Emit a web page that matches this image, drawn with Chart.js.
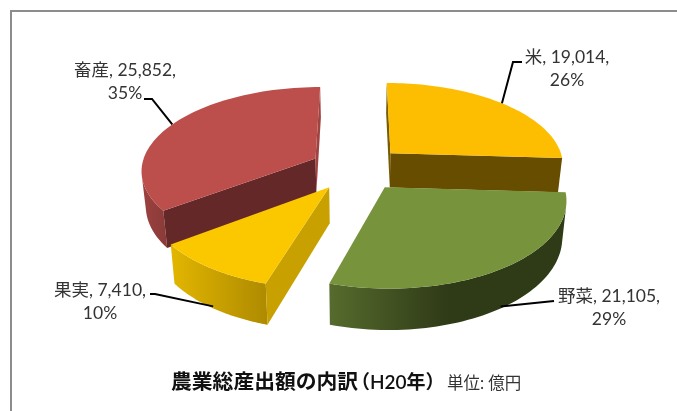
<!DOCTYPE html>
<html lang="ja">
<head>
<meta charset="utf-8">
<style>html,body{margin:0;padding:0;background:#fff}canvas{display:block}</style>
<script src="https://cdn.jsdelivr.net/npm/chart.js@4"></script>
</head>
<body>
<canvas id="c" width="677" height="411"></canvas>
<script>
const categories = ['米', '野菜', '果実', '畜産'];
const values = [19014, 21105, 7410, 25852];
const percentLabels = ['26%', '29%', '10%', '35%'];
const valueLabels = ['19,014', '21,105', '7,410', '25,852'];
const titleMain = '農業総産出額の内訳';
const titleYear = '（H20年）';
const unitText = '単位: 億円';

// look of each slice
const topColors = ['#FDBD00', '#77933C', '#FBC800', '#BC4F4C'];
const startWallColors = ['#7A5C00', '#3A4A1E', '#C8A000', '#652828'];
const endWallColors = ['#664D00', '#3A4A1E', '#C8A000', '#A04442'];
const outerWallStops = [
  [[0, '#664D00'], [1, '#664D00']],
  [[0, '#566B2D'], [0.5, '#2F3A17'], [1, '#2F3A17']],
  [[0, '#E2B600'], [1, '#AE8A00']],
  [[0, '#9C4240'], [1, '#8A3A38']]
];
const drawOrder = [3, 0, 1, 2];

// camera of the tilted pie
const view = {cx: 357, cy: 168.4, f: 174.5, g: 83, k: 0.128, explode: 0.27, depth: 35, taper: 0.02};

// label placement: x centre, first baseline; leader elbow points and wall fraction for anchor
const labelBoxes = [[567, 63], [609, 302], [100, 296], [125, 76]];
const leaderElbows = [[[513, 62], [522, 62]], [[554, 301]], [[155, 294], [150, 294]], [[152, 99], [144, 99]]];
const leaderWall = [0, 0.95, 0.95, 0];

function project(X, Y, wall) {
  const w = 1 + view.k * Y;
  let x = view.cx + view.f * X / w;
  let y = view.cy - view.g * Y / w;
  if (wall) {
    x = view.cx + (x - view.cx) * (1 - view.taper * wall);
    y += wall * view.depth / w;
  }
  return [x, y];
}

function area(q) {
  let s = 0;
  for (let i = 0; i < q.length; i++) {
    const a = q[i], b = q[(i + 1) % q.length];
    s += a[0] * b[1] - b[0] * a[1];
  }
  return s / 2;
}

function fillPoly(ctx, pts, style) {
  ctx.beginPath();
  pts.forEach((p, i) => i ? ctx.lineTo(p[0], p[1]) : ctx.moveTo(p[0], p[1]));
  ctx.closePath();
  ctx.fillStyle = style;
  ctx.fill();
}

const pie3d = {
  id: 'pie3d',
  beforeDatasetDraw(chart) {
    const ctx = chart.ctx;
    const arcs = chart.getDatasetMeta(0).data;
    ctx.save();
    drawOrder.forEach(i => {
      const arc = arcs[i];
      const ts = arc.startAngle + Math.PI / 2, te = arc.endAngle + Math.PI / 2, tm = (ts + te) / 2;
      const ox = Math.sin(tm) * view.explode, oy = Math.cos(tm) * view.explode;
      const at = (t, r, wall) => project(ox + Math.sin(t) * r, oy + Math.cos(t) * r, wall);
      const n = 64, topArc = [], botArc = [];
      for (let j = 0; j <= n; j++) {
        const t = ts + (te - ts) * j / n;
        topArc.push(at(t, 1, 0));
        botArc.push(at(t, 1, 1));
      }
      // outer wall: only the part that faces the viewer
      const runTop = [], runBot = [];
      for (let j = 0; j < n; j++) {
        if (area([topArc[j], topArc[j + 1], botArc[j + 1], botArc[j]]) < 0) {
          if (!runTop.length) { runTop.push(topArc[j]); runBot.push(botArc[j]); }
          runTop.push(topArc[j + 1]); runBot.push(botArc[j + 1]);
        }
      }
      if (runTop.length) {
        const xs = runTop.concat(runBot).map(p => p[0]);
        const g = ctx.createLinearGradient(Math.min(...xs), 0, Math.max(...xs), 0);
        outerWallStops[i].forEach(s => g.addColorStop(s[0], s[1]));
        fillPoly(ctx, runTop.concat(runBot.slice().reverse()), g);
      }
      // straight walls
      const aT = at(0, 0, 0), aB = at(0, 0, 1);
      const sQ = [aT, topArc[0], botArc[0], aB];
      const eQ = [topArc[n], aT, aB, botArc[n]];
      if (area(sQ) < 0) fillPoly(ctx, sQ, startWallColors[i]);
      if (area(eQ) < 0) fillPoly(ctx, eQ, endWallColors[i]);
      // top face
      fillPoly(ctx, [aT].concat(topArc), topColors[i]);
    });
    ctx.restore();
    return false;
  },
  afterDatasetsDraw(chart) {
    const ctx = chart.ctx;
    const arcs = chart.getDatasetMeta(0).data;
    ctx.save();
    // frame
    ctx.fillStyle = '#8C8C8C';
    ctx.fillRect(10, 10, 667, 2);
    ctx.fillRect(10, 10, 2, 401);
    // leaders and labels
    categories.forEach((cat, i) => {
      const arc = arcs[i];
      const tm = (arc.startAngle + arc.endAngle) / 2 + Math.PI / 2;
      const ox = Math.sin(tm) * (view.explode + 1), oy = Math.cos(tm) * (view.explode + 1);
      const a = project(ox, oy, leaderWall[i]);
      ctx.beginPath();
      ctx.moveTo(a[0], a[1]);
      leaderElbows[i].forEach(p => ctx.lineTo(p[0], p[1]));
      ctx.strokeStyle = '#000';
      ctx.lineWidth = 2;
      ctx.stroke();
      ctx.font = '17.5px Lato, "Noto Sans CJK JP"';
      ctx.fillStyle = '#333';
      ctx.textAlign = 'center';
      ctx.textBaseline = 'alphabetic';
      ctx.fillText(cat + ', ' + valueLabels[i] + ',', labelBoxes[i][0], labelBoxes[i][1]);
      ctx.fillText(percentLabels[i], labelBoxes[i][0], labelBoxes[i][1] + 23);
    });
    // title
    ctx.textAlign = 'left';
    ctx.fillStyle = '#111';
    ctx.font = 'bold 20.8px "Noto Sans CJK JP"';
    ctx.fillText(titleMain, 171, 389);
    ctx.font = '600 19px Lato, "Noto Sans CJK JP"';
    ctx.fillText(titleYear, 351, 389);
    ctx.fillStyle = '#333';
    ctx.font = '16.5px Lato, "Noto Sans CJK JP"';
    ctx.fillText(unitText, 447, 389);
    ctx.restore();
  }
};

new Chart(document.getElementById('c'), {
  type: 'pie',
  data: {labels: categories, datasets: [{data: values, backgroundColor: topColors, borderWidth: 0}]},
  options: {
    responsive: false,
    animation: false,
    plugins: {legend: {display: false}, tooltip: {enabled: false}}
  },
  plugins: [pie3d]
});
</script>
</body>
</html>
